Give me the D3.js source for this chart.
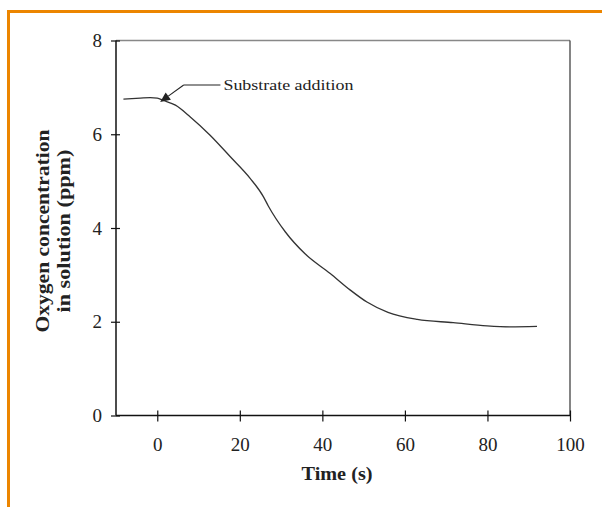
<!DOCTYPE html>
<html><head><meta charset="utf-8">
<script src="https://cdn.jsdelivr.net/npm/d3@7"></script>
<style>body{margin:0;background:#fff}svg{display:block}</style>
</head><body>
<script>
const timeS = [-8.2,-4.1,-1.7,0,1.5,4.4,8,12.8,17.7,22.5,25.7,26.9,31,35.8,41.9,46.7,50.8,55.9,63,71.7,79.9,85.5,92];
const oxygenPpm = [6.75,6.77,6.78,6.77,6.72,6.62,6.37,5.98,5.52,5.06,4.67,4.47,3.92,3.45,3.03,2.68,2.42,2.20,2.05,1.98,1.91,1.89,1.90];
const xTicks = [0,20,40,60,80,100];
const yTicks = [0,2,4,6,8];
const annotText = "Substrate addition";
const annotTip = [0.7, 6.69];
const annotElbow = [6.4, 7.05];
const annotEnd = [15.3, 7.05];

const W=602,H=507;
const svg=d3.select("body").append("svg").attr("width",W).attr("height",H);
const serif="'Liberation Serif','DejaVu Serif',serif";
const orange="#EC8500";
svg.append("rect").attr("x",7).attr("y",10).attr("width",W-7).attr("height",3).attr("fill",orange);
svg.append("rect").attr("x",7).attr("y",10).attr("width",3).attr("height",H-10).attr("fill",orange);

const x=d3.scaleLinear().domain([-10,100]).range([116,570]);
const y=d3.scaleLinear().domain([0,8]).range([415.5,40.5]);

// frame
svg.append("line").attr("x1",x(-10)).attr("x2",x(100)).attr("y1",y(8)).attr("y2",y(8)).attr("stroke","#888").attr("stroke-width",1.5);
svg.append("line").attr("x1",x(100)).attr("x2",x(100)).attr("y1",y(8)).attr("y2",y(0)).attr("stroke","#333").attr("stroke-width",1.2);

const xa=svg.append("g").attr("transform",`translate(0,${y(0)})`)
  .call(d3.axisBottom(x).tickValues(xTicks).tickSize(0).tickFormat(d3.format("d")));
xa.select(".domain").remove();
xa.append("line").attr("x1",x(-10)).attr("x2",x(100)).attr("stroke","#111").attr("stroke-width",1.5);
xa.selectAll(".tick").append("line").attr("y1",-5).attr("y2",6).attr("stroke","#111").attr("stroke-width",1.2);
xa.selectAll(".tick text").attr("dy",null).attr("y",35).style("font-family",serif).style("font-size","19px").attr("fill","#222");

const ya=svg.append("g").attr("transform",`translate(${x(-10)},0)`)
  .call(d3.axisLeft(y).tickValues(yTicks).tickSize(0).tickFormat(d3.format("d")));
ya.select(".domain").remove();
ya.append("line").attr("y1",y(0)).attr("y2",y(8)).attr("stroke","#111").attr("stroke-width",1.5);
ya.selectAll(".tick").append("line").attr("x1",-5).attr("x2",4).attr("stroke","#111").attr("stroke-width",1.2);
ya.selectAll(".tick text").attr("x",-14).style("font-family",serif).style("font-size","19px").attr("fill","#222");

// curve
const line=d3.line().x((d,i)=>x(timeS[i])).y(d=>y(d)).curve(d3.curveMonotoneX);
svg.append("path").datum(oxygenPpm).attr("d",line).attr("fill","none").attr("stroke","#333").attr("stroke-width",1.3);

// annotation
const tip=[x(annotTip[0]),y(annotTip[1])], el=[x(annotElbow[0]),y(annotElbow[1])], en=[x(annotEnd[0]),y(annotEnd[1])];
svg.append("polyline").attr("points",[en,el].map(p=>p.join(",")).join(" ")).attr("fill","none").attr("stroke","#222").attr("stroke-width",1.1);
const ang=Math.atan2(tip[1]-el[1],tip[0]-el[0]);
const hl=10, hw=4.5;
const base=[tip[0]-hl*Math.cos(ang), tip[1]-hl*Math.sin(ang)];
svg.append("line").attr("x1",el[0]).attr("y1",el[1]).attr("x2",base[0]).attr("y2",base[1]).attr("stroke","#222").attr("stroke-width",1.1);
svg.append("polygon").attr("points",[tip,[base[0]+hw*Math.sin(ang),base[1]-hw*Math.cos(ang)],[base[0]-hw*Math.sin(ang),base[1]+hw*Math.cos(ang)]].map(p=>p.join(",")).join(" ")).attr("fill","#222");
svg.append("text").attr("x",en[0]+3).attr("y",en[1]+5).attr("font-family",serif).attr("font-size",15.5)
  .attr("textLength",130).attr("lengthAdjust","spacingAndGlyphs").attr("fill","#222").text(annotText);

// axis titles
svg.append("text").attr("x",337).attr("y",480).attr("text-anchor","middle").attr("font-family",serif)
  .attr("font-weight","bold").attr("font-size",19).attr("textLength",71).attr("lengthAdjust","spacingAndGlyphs").attr("fill","#222").text("Time (s)");
const yl=svg.append("g").attr("transform","translate(0,231) rotate(-90)");
yl.append("text").attr("x",0).attr("y",49).attr("text-anchor","middle").attr("font-family",serif)
  .attr("font-weight","bold").attr("font-size",19).attr("textLength",203).attr("lengthAdjust","spacingAndGlyphs").attr("fill","#222").text("Oxygen concentration");
yl.append("text").attr("x",0).attr("y",70).attr("text-anchor","middle").attr("font-family",serif)
  .attr("font-weight","bold").attr("font-size",19).attr("textLength",163).attr("lengthAdjust","spacingAndGlyphs").attr("fill","#222").text("in solution (ppm)");
</script>
</body></html>
